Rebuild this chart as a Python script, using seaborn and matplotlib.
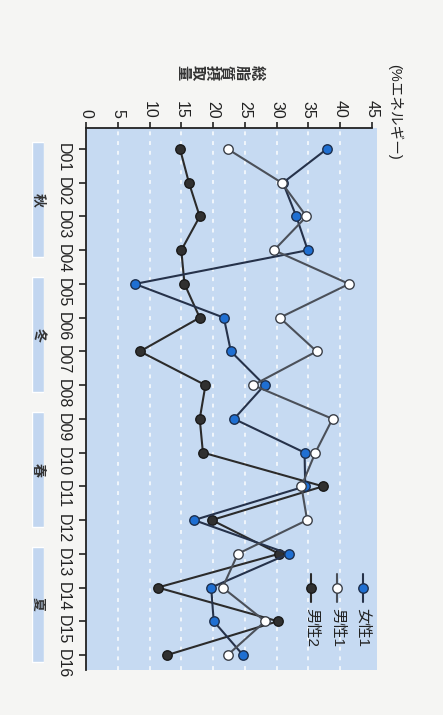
import matplotlib
matplotlib.use("Agg")
import matplotlib.pyplot as plt
import seaborn as sns
import pandas as pd

days = ['D01', 'D02', 'D03', 'D04', 'D05', 'D06', 'D07', 'D08',
        'D09', 'D10', 'D11', 'D12', 'D13', 'D14', 'D15', 'D16']
day_no = list(range(1, 17))
female1 = [37.9, 31.0, 33.1, 34.9, 7.7, 21.7, 22.8, 28.1,
           23.3, 34.4, 34.5, 17.0, 31.9, 19.7, 20.1, 24.7]
male1 = [22.3, 30.8, 34.7, 29.6, 41.4, 30.5, 36.3, 26.3,
         38.8, 36.1, 33.9, 34.8, 23.9, 21.5, 28.2, 22.3]
male2 = [14.8, 16.2, 17.9, 15.0, 15.5, 17.9, 8.5, 18.8,
         17.9, 18.4, 37.3, 19.8, 30.4, 11.3, 30.2, 12.8]
series_names = ['女性1', '男性1', '男性2']
seasons = ['秋', '冬', '春', '夏']
season_first = [1, 5, 9, 13]
season_last = [4, 8, 12, 16]
value_ticks = [0, 5, 10, 15, 20, 25, 30, 35, 40, 45]

# line colour, marker face, marker edge, zorder
styles = {
    '女性1': ('#26324a', '#1f6fd2', '#1d2f4d', 3),
    '男性1': ('#4b5059', 'white', '#3a3f48', 4),
    '男性2': ('#2b2b2b', '#303030', '#1a1a1a', 2),
}

sns.set_style('white')
plt.rcParams['font.family'] = ['Liberation Sans', 'Noto Sans CJK JP']

W, H = 443, 715
fig = plt.figure(figsize=(W / 100, H / 100), dpi=100, facecolor='#f5f5f3')

ax_l, ax_r, ax_t, ax_b = 86, 377, 128, 670
ax = fig.add_axes([ax_l / W, 1 - ax_b / H, (ax_r - ax_l) / W, (ax_b - ax_t) / H])
ax.set_facecolor('#c6daf2')

df = pd.DataFrame({
    'day': day_no * 3,
    'value': female1 + male1 + male2,
    'who': [n for n in series_names for _ in day_no],
})

for name in series_names:
    lc, fc, ec, z = styles[name]
    sns.lineplot(data=df[df['who'] == name], x='value', y='day', orient='y',
                 estimator=None, sort=True, color=lc, linewidth=1.5,
                 marker='o', markersize=6.8, markerfacecolor=fc,
                 markeredgecolor=ec, markeredgewidth=1.0, ax=ax, zorder=z)

# dotted white grid
for v in value_ticks[1:-1]:
    ax.axvline(v, color='white', lw=1.4, ls=(0, (2, 3)), alpha=0.75, zorder=0.5)

ylim = (16.445, 0.377)
ax.set_xlim(0, 45.8)
ax.set_ylim(*ylim)
ax.set_xlabel('')
ax.set_ylabel('')
ax.xaxis.tick_top()
ax.set_xticks(value_ticks, [str(v) for v in value_ticks], rotation=-90)
ax.set_yticks(day_no, days, rotation=-90)
ax.tick_params(axis='x', direction='out', length=4, width=1.2, pad=3,
               labelsize=11.5, colors='#222222', top=True, bottom=False)
ax.tick_params(axis='y', direction='out', length=5, width=1.2, pad=6,
               labelsize=11.5, colors='#222222', left=True)
for s in ['right', 'bottom']:
    ax.spines[s].set_visible(False)
for s in ['top', 'left']:
    ax.spines[s].set_color('#222222')
    ax.spines[s].set_linewidth(1.3)
ax.spines['top'].set_bounds(0, 45)

# legend drawn as in the rotated original
leg_x = [0.952, 0.863, 0.773]
for name, lx in zip(series_names, leg_x):
    lc, fc, ec, z = styles[name]
    ax.plot([lx, lx, lx], [0.178, 0.151, 0.126], transform=ax.transAxes,
            color=lc, lw=1.5, marker='o', markevery=[1], markersize=6.8,
            markerfacecolor=fc, markeredgecolor=ec, markeredgewidth=1.0,
            zorder=5, clip_on=False)
    ax.text(lx, 0.114, name, transform=ax.transAxes, rotation=-90,
            ha='center', va='top', fontsize=11, color='#222222')

# season bands on the left
sax = fig.add_axes([32 / W, 1 - ax_b / H, 12 / W, (ax_b - ax_t) / H])
centers = [(a + b) / 2 for a, b in zip(season_first, season_last)]
spans = [b - a + 0.4 for a, b in zip(season_first, season_last)]
sax.barh(centers, [1] * len(centers), height=spans, left=0, color='#c2d6f0')
for s, c in zip(seasons, centers):
    sax.text(0.5, c, s, rotation=-90, ha='center', va='center',
             fontsize=10, fontweight='bold', color='#333333')
sax.set_xlim(0, 1)
sax.set_ylim(*ylim)
sax.axis('off')

# axis title and unit
fig.text(219 / W, 1 - 73 / H, '\n'.join('総脂質摂取量'), rotation=-90,
         ha='center', va='center', fontsize=11, linespacing=1.05,
         fontweight='bold', color='#333333')
fig.text(395 / W, 1 - 112 / H, '(%エネルギー)', rotation=-90,
         ha='center', va='center', fontsize=10.5, color='#222222')

fig.savefig('out.png', dpi=100, facecolor=fig.get_facecolor())
